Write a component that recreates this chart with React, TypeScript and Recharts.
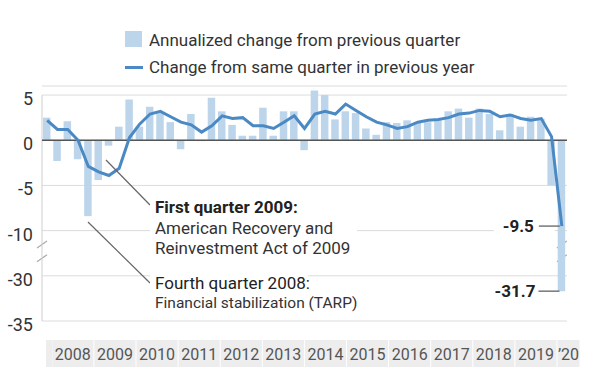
import React from 'react';
import {
  ComposedChart,
  Bar,
  Line,
  XAxis,
  YAxis,
  CartesianGrid,
  ReferenceLine,
  ReferenceArea,
  LabelList,
} from 'recharts';

const quarters = [
  '2007Q4',
  '2008Q1', '2008Q2', '2008Q3', '2008Q4',
  '2009Q1', '2009Q2', '2009Q3', '2009Q4',
  '2010Q1', '2010Q2', '2010Q3', '2010Q4',
  '2011Q1', '2011Q2', '2011Q3', '2011Q4',
  '2012Q1', '2012Q2', '2012Q3', '2012Q4',
  '2013Q1', '2013Q2', '2013Q3', '2013Q4',
  '2014Q1', '2014Q2', '2014Q3', '2014Q4',
  '2015Q1', '2015Q2', '2015Q3', '2015Q4',
  '2016Q1', '2016Q2', '2016Q3', '2016Q4',
  '2017Q1', '2017Q2', '2017Q3', '2017Q4',
  '2018Q1', '2018Q2', '2018Q3', '2018Q4',
  '2019Q1', '2019Q2', '2019Q3', '2019Q4',
  '2020Q1', '2020Q2',
];

// annualized change from previous quarter
const qoqChange = [
  2.5,
  -2.3, 2.1, -2.1, -8.4,
  -4.4, -0.6, 1.5, 4.5,
  1.5, 3.7, 3.0, 2.0,
  -1.0, 2.9, -0.1, 4.7,
  3.2, 1.7, 0.5, 0.5,
  3.6, 0.5, 3.2, 3.2,
  -1.1, 5.5, 5.0, 2.3,
  3.2, 3.0, 1.3, 0.6,
  2.0, 1.9, 2.2, 2.0,
  2.0, 2.2, 3.2, 3.5,
  2.5, 3.5, 2.9, 1.1,
  2.9, 1.5, 2.6, 2.4,
  -5.0, -31.7,
];

// change from same quarter in previous year
const yoyChange = [
  2.2,
  1.2, 1.2, 0.0, -2.9,
  -3.5, -3.9, -3.1, 0.3,
  1.8, 2.9, 3.2, 2.6,
  2.0, 1.7, 0.9, 1.6,
  2.7, 2.4, 2.5, 1.6,
  1.6, 1.3, 2.0, 2.7,
  1.3, 2.9, 3.2, 2.9,
  4.0, 3.3, 2.6, 2.0,
  1.7, 1.3, 1.5, 2.0,
  2.2, 2.3, 2.5, 2.9,
  3.0, 3.3, 3.2, 2.6,
  2.8, 2.4, 2.2, 2.4,
  0.4, -9.5,
];

const yearLabels = ['2008', '2009', '2010', '2011', '2012', '2013', '2014', '2015', '2016', '2017', '2018', '2019', '\u201920'];
const yTickValues = [5, 0, -5, -10, -30, -35];

const BAR = '#bdd5ea';
const LINE = '#4a89c3';
const FONT = 'Roboto, "Noto Sans", sans-serif';

// y axis is cut between -10 and -30
const CUT = -12;
const SHIFT = 15;
const squash = (v: number) => (v < CUT ? v + SHIFT : v);
const unsquash = (v: number) => (v < CUT ? v - SHIFT : v);

const data = quarters.map((q, i) => ({
  q,
  qoq: squash(qoqChange[i]),
  qoqRaw: qoqChange[i],
  yoy: squash(yoyChange[i]),
  yoyRaw: yoyChange[i],
}));
const last = quarters.length - 1;

const PLOT_W = 525;
const BAND = PLOT_W / quarters.length;
// the year boxes are laid out a little wider than four bars
const YEAR_W = 42.1;

const YTick = (props: any) => {
  const { x, y, payload } = props;
  return (
    <text x={x} y={y} dy={10} textAnchor="end" fill="#333" fontSize={18} fontFamily={FONT}>
      {unsquash(payload.value)}
    </text>
  );
};

const YearTick = (props: any) => {
  const { x, y, payload } = props;
  const q: string = payload.value;
  const top = y + 19;
  if (q === quarters[0]) {
    return <rect x={x - BAND / 2 + 4} y={top} width={BAND / 2 + 1} height={27} fill="#ededed" />;
  }
  if (!q.endsWith('Q1')) return null;
  const k = Number(q.slice(0, 4)) - 2008;
  const start = x - BAND / 2 + k * (YEAR_W - 4 * BAND);
  const w = k === 12 ? 22 : YEAR_W - 1;
  return (
    <g>
      <rect x={start} y={top} width={w} height={27} fill="#ededed" />
      <text x={start + w / 2} y={top + 20} textAnchor="middle" fontSize={16} fill="#555" fontFamily={FONT}>
        {yearLabels[k]}
      </text>
    </g>
  );
};

const YoyLabel = (props: any) => {
  const { x, y, index, value } = props;
  if (index !== last) return null;
  return (
    <g>
      <rect x={x - 68} y={y - 10} width={61} height={20} fill="#fff" />
      <line x1={x - 23} x2={x - 2} y1={y} y2={y} stroke="#777" strokeWidth={1.5} />
      <text x={x - 28} y={y + 6} textAnchor="end" fontWeight="bold" fontSize={17} fill="#222" fontFamily={FONT}>
        {value}
      </text>
    </g>
  );
};

const QoqLabel = (props: any) => {
  const { x, y, width, height, index, value } = props;
  if (index !== last) return null;
  const bottom = Math.max(y, y + height);
  const cx = x + width / 2;
  return (
    <g>
      <line x1={cx - 23} x2={cx - 2} y1={bottom} y2={bottom} stroke="#777" strokeWidth={1.5} />
      <text x={cx - 26} y={bottom + 6} textAnchor="end" fontWeight="bold" fontSize={17} fill="#222" fontFamily={FONT}>
        {value}
      </text>
    </g>
  );
};

// slashes where the axis is cut: on the axis line and on the last bar
const BreakMarks = (props: any) => {
  const { x, y, width, height } = props;
  const b = y + height;
  const marks = (cx: number, key: string) => (
    <g key={key}>
      <polygon
        points={`${cx - 6},${y + 7} ${cx + 6},${y - 1} ${cx + 6},${b - 7} ${cx - 6},${b + 1}`}
        fill="#fff"
      />
      <line x1={cx - 5} y1={y + 6.5} x2={cx + 5} y2={y - 0.5} stroke="#aaa" strokeWidth={1.2} />
      <line x1={cx - 5} y1={b + 0.5} x2={cx + 5} y2={b - 6.5} stroke="#aaa" strokeWidth={1.2} />
    </g>
  );
  const band = width / quarters.length;
  return <g>{[marks(x, 'axis'), marks(x + width - band / 2, 'bar')]}</g>;
};

export default function App() {
  return (
    <div style={{ position: 'relative', width: 600, height: 380, background: '#fff', fontFamily: FONT }}>
      <style>{'body{margin:0}'}</style>
      <ComposedChart
        width={600}
        height={380}
        data={data}
        margin={{ top: 86, right: 600 - 42 - PLOT_W, bottom: 14, left: 0 }}
      >
        <CartesianGrid vertical={false} stroke="#dcdcdc" strokeWidth={1} />
        <XAxis
          dataKey="q"
          type="category"
          axisLine={false}
          tickLine={false}
          tickSize={0}
          tickMargin={0}
          height={45}
          interval={0}
          tick={<YearTick />}
        />
        <YAxis
          domain={[-20, 6]}
          ticks={yTickValues.map(squash)}
          interval={0}
          width={42}
          axisLine={false}
          tickLine={false}
          tickSize={0}
          tickMargin={9}
          tick={<YTick />}
        />
        <ReferenceLine
          segment={[{ x: quarters[0], y: 5 }, { x: quarters[0], y: -20 }]}
          position="start"
          stroke="#cfcfcf"
          strokeWidth={1}
        />
        <Bar dataKey="qoq" fill={BAR} barSize={7.5} isAnimationActive={false}>
          <LabelList dataKey="qoqRaw" content={<QoqLabel />} />
        </Bar>
        <ReferenceLine y={0} stroke="#555" strokeWidth={1.5} />
        <Line dataKey="yoy" type="linear" stroke={LINE} strokeWidth={3} dot={false} isAnimationActive={false}>
          <LabelList dataKey="yoyRaw" content={<YoyLabel />} />
        </Line>
        <ReferenceArea y1={-11.2} y2={-13.4} shape={<BreakMarks />} />
      </ComposedChart>

      <svg
        width={600}
        height={380}
        style={{ position: 'absolute', left: 0, top: 0, pointerEvents: 'none' }}
        fontFamily={FONT}
      >
        {/* legend */}
        <rect x={125} y={31} width={17} height={16} fill={BAR} />
        <text x={149} y={46} fontSize={17} fill="#333">Annualized change from previous quarter</text>
        <rect x={125} y={66} width={18} height={3} fill={LINE} />
        <text x={149} y={72.5} fontSize={17} fill="#333">Change from same quarter in previous year</text>

        {/* annotations */}
        <line x1={106} y1={160} x2={150} y2={205} stroke="#666" strokeWidth={1.2} />
        <rect x={150} y={196} width={207} height={62} fill="#fff" />
        <text x={155} y={212.5} fontSize={17} fontWeight="bold" fill="#222">First quarter 2009:</text>
        <text x={155} y={233.5} fontSize={17} fill="#333">American Recovery and</text>
        <text x={155} y={254} fontSize={17} fill="#333">Reinvestment Act of 2009</text>

        <line x1={88} y1={222} x2={150} y2={283} stroke="#666" strokeWidth={1.2} />
        <rect x={150} y={270} width={158} height={42} fill="#fff" />
        <text x={155} y={288.5} fontSize={17} fill="#222">Fourth quarter 2008:</text>
        <text x={155} y={308} fontSize={15.5} fill="#333">Financial stabilization (TARP)</text>
      </svg>
    </div>
  );
}
